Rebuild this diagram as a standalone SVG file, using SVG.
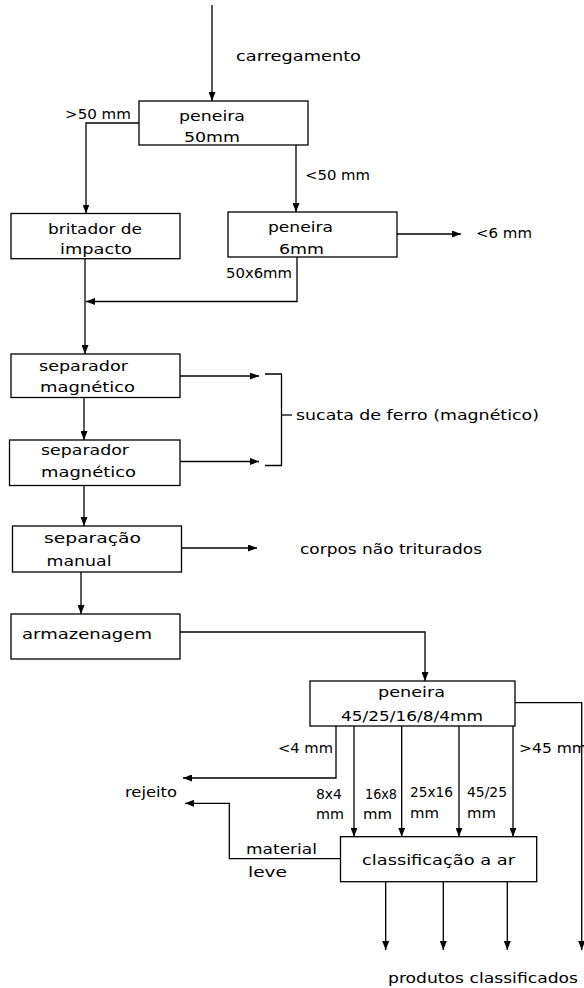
<svg xmlns="http://www.w3.org/2000/svg" width="584" height="988" viewBox="0 0 584 988">
  <style>
    .box { fill: #fff; stroke: #000; stroke-width: 1.3; }
    .ln { fill: none; stroke: #000; stroke-width: 1.3; }
    .arr { marker-end: url(#ah); }
    text { font-family: "DejaVu Sans", "Liberation Sans", sans-serif; font-size: 14.5px; fill: #000; }
  </style>
  <defs>
    <marker id="ah" markerUnits="userSpaceOnUse" markerWidth="9" markerHeight="7" refX="9" refY="3.5" orient="auto">
      <path d="M0,0 L9,3.5 L0,7 z" fill="#000"/>
    </marker>
  </defs>
  <rect width="584" height="988" fill="#fff"/>

  <!-- connectors -->
  <g id="connectors">
    <line class="ln arr" x1="212" y1="5" x2="212" y2="101"/>
    <polyline class="ln arr" points="139,123 86,123 86,213.5"/>
    <line class="ln arr" x1="296" y1="145" x2="296" y2="212"/>
    <line class="ln arr" x1="397" y1="234" x2="461" y2="234"/>
    <polyline class="ln arr" points="297,257 297,301.5 86,301.5"/>
    <line class="ln arr" x1="85" y1="258.7" x2="85" y2="354"/>
    <line class="ln arr" x1="180" y1="376" x2="259" y2="376"/>
    <polyline class="ln" points="265,374 281.5,374 281.5,465.5 265,465.5"/>
    <line class="ln" x1="281.5" y1="415" x2="292" y2="415"/>
    <line class="ln arr" x1="84" y1="397.5" x2="84" y2="440"/>
    <line class="ln arr" x1="180" y1="461.5" x2="259" y2="461.5"/>
    <line class="ln arr" x1="84" y1="485.5" x2="84" y2="526"/>
    <line class="ln arr" x1="181.5" y1="548" x2="257" y2="548"/>
    <line class="ln arr" x1="81" y1="572" x2="81" y2="614"/>
    <polyline class="ln arr" points="180,632 425,632 425,681"/>
    <polyline class="ln arr" points="515,702.7 581.7,702.7 581.7,950"/>
    <polyline class="ln arr" points="336,726 336,778 183,778"/>
    <line class="ln arr" x1="354" y1="726" x2="354" y2="836.7"/>
    <line class="ln arr" x1="401.7" y1="726" x2="401.7" y2="836.7"/>
    <line class="ln arr" x1="459" y1="726" x2="459" y2="836.7"/>
    <line class="ln arr" x1="513" y1="726" x2="513" y2="836.7"/>
    <polyline class="ln arr" points="340,858.7 229.3,858.7 229.3,803.3 185,803.3"/>
    <line class="ln arr" x1="385.7" y1="881.7" x2="385.7" y2="950"/>
    <line class="ln arr" x1="443.3" y1="881.7" x2="443.3" y2="950"/>
    <line class="ln arr" x1="507.3" y1="881.7" x2="507.3" y2="950"/>
  </g>

  <!-- connector labels -->
  <g id="labels">
    <text x="236" y="61" textLength="125" lengthAdjust="spacingAndGlyphs">carregamento</text>
    <text x="65" y="119" textLength="66" lengthAdjust="spacingAndGlyphs">&gt;50 mm</text>
    <text x="305" y="180" textLength="65" lengthAdjust="spacingAndGlyphs">&lt;50 mm</text>
    <text x="476" y="238" textLength="56" lengthAdjust="spacingAndGlyphs">&lt;6 mm</text>
    <text x="226" y="278" textLength="66" lengthAdjust="spacingAndGlyphs">50x6mm</text>
    <text x="296" y="420" textLength="243" lengthAdjust="spacingAndGlyphs">sucata de ferro (magnético)</text>
    <text x="300" y="554" textLength="182" lengthAdjust="spacingAndGlyphs">corpos não triturados</text>
    <text x="278" y="753" textLength="55" lengthAdjust="spacingAndGlyphs">&lt;4 mm</text>
    <text x="519" y="753" textLength="68" lengthAdjust="spacingAndGlyphs">&gt;45 mm</text>
    <text x="125" y="797" textLength="52" lengthAdjust="spacingAndGlyphs">rejeito</text>
    <text x="316" y="798.5" textLength="26" lengthAdjust="spacingAndGlyphs">8x4</text>
    <text x="316" y="819" textLength="28" lengthAdjust="spacingAndGlyphs">mm</text>
    <text x="365" y="798.5" textLength="32" lengthAdjust="spacingAndGlyphs">16x8</text>
    <text x="363" y="819" textLength="29" lengthAdjust="spacingAndGlyphs">mm</text>
    <text x="410" y="797" textLength="43" lengthAdjust="spacingAndGlyphs">25x16</text>
    <text x="410" y="818" textLength="29" lengthAdjust="spacingAndGlyphs">mm</text>
    <text x="467" y="797" textLength="40" lengthAdjust="spacingAndGlyphs">45/25</text>
    <text x="467" y="818" textLength="29" lengthAdjust="spacingAndGlyphs">mm</text>
    <text x="246" y="853.5" textLength="71" lengthAdjust="spacingAndGlyphs">material</text>
    <text x="248" y="877" textLength="39" lengthAdjust="spacingAndGlyphs">leve</text>
    <text x="388" y="983" textLength="190" lengthAdjust="spacingAndGlyphs">produtos classificados</text>
  </g>

  <!-- process nodes -->
  <g id="peneira50">
    <rect class="box" x="139" y="101" width="169" height="44"/>
    <text x="179" y="121" textLength="66" lengthAdjust="spacingAndGlyphs">peneira</text>
    <text x="184" y="142" textLength="56" lengthAdjust="spacingAndGlyphs">50mm</text>
  </g>
  <g id="britador">
    <rect class="box" x="11" y="213.5" width="169" height="45.2"/>
    <text x="48" y="233.5" textLength="94" lengthAdjust="spacingAndGlyphs">britador de</text>
    <text x="60" y="254" textLength="72" lengthAdjust="spacingAndGlyphs">impacto</text>
  </g>
  <g id="peneira6">
    <rect class="box" x="228" y="212" width="169" height="45"/>
    <text x="268" y="232" textLength="65" lengthAdjust="spacingAndGlyphs">peneira</text>
    <text x="279" y="253.5" textLength="45" lengthAdjust="spacingAndGlyphs">6mm</text>
  </g>
  <g id="separador1">
    <rect class="box" x="11" y="354" width="169" height="43.5"/>
    <text x="39" y="371" textLength="89" lengthAdjust="spacingAndGlyphs">separador</text>
    <text x="40" y="392" textLength="95" lengthAdjust="spacingAndGlyphs">magnético</text>
  </g>
  <g id="separador2">
    <rect class="box" x="9.5" y="440" width="170.5" height="45.5"/>
    <text x="41" y="455" textLength="88" lengthAdjust="spacingAndGlyphs">separador</text>
    <text x="41" y="477" textLength="95" lengthAdjust="spacingAndGlyphs">magnético</text>
  </g>
  <g id="separacao-manual">
    <rect class="box" x="12.5" y="526" width="169" height="46"/>
    <text x="44" y="542.5" textLength="97" lengthAdjust="spacingAndGlyphs">separação</text>
    <text x="46.5" y="566" textLength="65" lengthAdjust="spacingAndGlyphs">manual</text>
  </g>
  <g id="armazenagem">
    <rect class="box" x="11" y="614" width="169" height="45"/>
    <text x="22" y="639" textLength="130" lengthAdjust="spacingAndGlyphs">armazenagem</text>
  </g>
  <g id="peneira45">
    <rect class="box" x="310" y="681" width="205" height="45"/>
    <text x="378" y="697" textLength="67" lengthAdjust="spacingAndGlyphs">peneira</text>
    <text x="341" y="721" textLength="142" lengthAdjust="spacingAndGlyphs">45/25/16/8/4mm</text>
  </g>
  <g id="classificacao">
    <rect class="box" x="340.5" y="836.7" width="196.2" height="45"/>
    <text x="362" y="865" textLength="153" lengthAdjust="spacingAndGlyphs">classificação a ar</text>
  </g>
</svg>
